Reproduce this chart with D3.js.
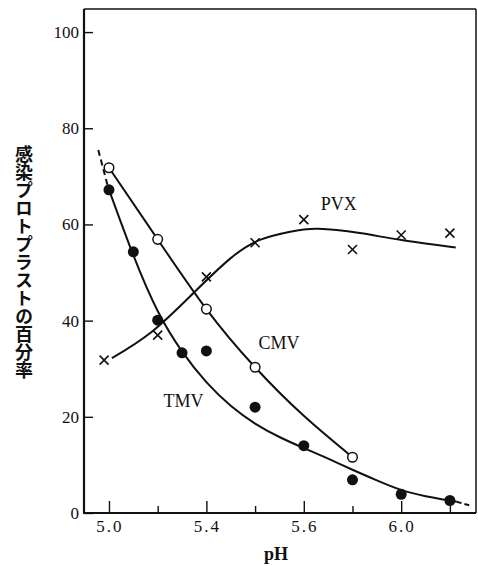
<!DOCTYPE html>
<html>
<head>
<meta charset="utf-8">
<script src="https://cdn.jsdelivr.net/npm/d3@7"></script>
<style>
  html, body { margin: 0; padding: 0; background: #fff; }
  svg { display: block; }
</style>
</head>
<body>
<svg id="chart" width="478" height="566"></svg>
<script>
// Measured points: pH and percentage of infected protoplasts
const tmvPoints = [[5.0, 67.2], [5.05, 54.3], [5.1, 40.1], [5.15, 33.3], [5.2, 33.7],
                   [5.3, 22.0], [5.4, 14.0], [5.5, 6.9], [5.6, 3.9], [5.7, 2.6]];
const cmvPoints = [[5.0, 71.8], [5.1, 56.9], [5.2, 42.4], [5.3, 30.3], [5.5, 11.6]];
const pvxPoints = [[4.99, 31.8], [5.1, 37.0], [5.2, 49.1], [5.3, 56.2], [5.4, 61.0],
                   [5.5, 54.8], [5.6, 57.8], [5.7, 58.2]];

// Hand-fitted trend curves
const tmvCurve = [[4.998, 67.8], [5.05, 53.6], [5.1, 42.0], [5.15, 33.6], [5.2, 27.2],
                  [5.25, 22.3], [5.3, 18.6], [5.35, 15.8], [5.4, 13.5], [5.45, 11.3],
                  [5.5, 9.0], [5.55, 6.8], [5.6, 4.8], [5.65, 3.5], [5.7, 2.6],
                  [5.714, 2.35]];
const tmvCurveTop = [[4.978, 75.5], [4.998, 67.8]];
const tmvCurveEnd = [[5.714, 2.35], [5.743, 1.5]];
const cmvCurve = [[5.0, 71.8], [5.1, 56.9], [5.2, 42.4], [5.3, 30.3], [5.4, 20.2], [5.5, 11.6]];
const pvxCurve = [[5.006, 32.2], [5.088, 37.7], [5.173, 45.7], [5.25, 53.0],
                  [5.31, 56.8], [5.372, 58.5], [5.43, 59.1], [5.515, 58.2],
                  [5.598, 56.8], [5.712, 55.2]];

// Axis ticks and labels
const xTicks = [5.0, 5.1, 5.2, 5.3, 5.4, 5.5, 5.6, 5.7];
const xMajorTicks = [5.0, 5.2, 5.4, 5.6];
const xTickLabels = ["5.0", "5.4", "5.6", "6.0"];
const yTicks = [0, 20, 40, 60, 80, 100];

const seriesLabels = [
  { text: "TMV", x: 5.112, y: 22.0 },
  { text: "CMV", x: 5.307, y: 34.0 },
  { text: "PVX", x: 5.435, y: 63.0 }
];
const xTitle = "pH";
const yTitle = "感染プロトプラストの百分率";

const svg = d3.select("#chart");
const plot = { left: 84, right: 476, top: 9, bottom: 513 };

const x = d3.scaleLinear().domain([4.9487, 5.7536]).range([plot.left, plot.right]);
const y = d3.scaleLinear().domain([0, 104.8]).range([plot.bottom, plot.top]);

const serif = "'Liberation Serif', 'DejaVu Serif', serif";

// frame: top and right thinner, left and bottom axes heavier
svg.append("line").attr("x1", plot.left).attr("x2", plot.right)
  .attr("y1", plot.top).attr("y2", plot.top)
  .attr("stroke", "#111").attr("stroke-width", 1.5);
svg.append("line").attr("x1", plot.right).attr("x2", plot.right)
  .attr("y1", plot.top).attr("y2", plot.bottom)
  .attr("stroke", "#111").attr("stroke-width", 1.5);

// y axis with inward ticks
const yAxis = d3.axisRight(y).tickValues(yTicks).tickSize(9).tickFormat("");
const gy = svg.append("g").attr("transform", `translate(${plot.left},0)`).call(yAxis);
gy.select(".domain").remove();
gy.selectAll(".tick line").attr("stroke", "#111").attr("stroke-width", 1.4);
svg.append("g").selectAll("text").data(yTicks).join("text")
  .attr("x", plot.left - 5).attr("y", d => y(d) + 6)
  .attr("text-anchor", "end")
  .attr("font-family", serif).attr("font-size", 17).attr("fill", "#111")
  .text(d => d);

// x axis with inward ticks, major and minor
const xAxis = d3.axisTop(x).tickValues(xTicks)
  .tickSize(7).tickFormat("");
const gx = svg.append("g").attr("transform", `translate(0,${plot.bottom})`).call(xAxis);
gx.select(".domain").remove();
gx.selectAll(".tick line")
  .attr("y2", d => xMajorTicks.some(m => Math.abs(m - d) < 1e-6) ? -12 : -7)
  .attr("stroke", "#111").attr("stroke-width", 1.4);
svg.append("g").selectAll("text").data(xMajorTicks).join("text")
  .attr("x", d => x(d) + 1).attr("y", plot.bottom + 19)
  .attr("text-anchor", "middle")
  .attr("font-family", serif).attr("font-size", 17).attr("letter-spacing", 2)
  .attr("fill", "#111")
  .text((d, i) => xTickLabels[i]);

// axis lines
svg.append("line").attr("x1", plot.left).attr("x2", plot.left)
  .attr("y1", plot.top).attr("y2", plot.bottom)
  .attr("stroke", "#111").attr("stroke-width", 2.2);
svg.append("line").attr("x1", plot.left - 1).attr("x2", plot.right)
  .attr("y1", plot.bottom).attr("y2", plot.bottom)
  .attr("stroke", "#111").attr("stroke-width", 2.2);

// titles
svg.append("text").attr("x", 276).attr("y", 560)
  .attr("text-anchor", "middle")
  .attr("font-family", serif).attr("font-size", 18).attr("font-weight", "bold")
  .attr("fill", "#111").text(xTitle);
svg.append("text").attr("x", 24).attr("y", 262)
  .attr("text-anchor", "middle")
  .style("writing-mode", "vertical-rl")
  .attr("font-family", "'Noto Sans CJK JP', sans-serif")
  .attr("font-size", 18).attr("font-weight", "bold")
  .attr("fill", "#111").text(yTitle);

// curves
const line = d3.line().x(d => x(d[0])).y(d => y(d[1])).curve(d3.curveNatural);
const curves = svg.append("g").attr("fill", "none").attr("stroke", "#111")
  .attr("stroke-width", 2).attr("stroke-linecap", "butt");
curves.append("path").attr("d", line(tmvCurve));
curves.append("path").attr("d", line(tmvCurveTop)).attr("stroke-dasharray", "6,4");
curves.append("path").attr("d", line(tmvCurveEnd)).attr("stroke-dasharray", "5,3");
curves.append("path").attr("d", line(cmvCurve));
curves.append("path").attr("d", line(pvxCurve));

// markers
svg.append("g").selectAll("circle").data(tmvPoints).join("circle")
  .attr("cx", d => x(d[0])).attr("cy", d => y(d[1])).attr("r", 5.5)
  .attr("fill", "#111");
svg.append("g").selectAll("circle").data(cmvPoints).join("circle")
  .attr("cx", d => x(d[0])).attr("cy", d => y(d[1])).attr("r", 4.8)
  .attr("fill", "#fff").attr("stroke", "#111").attr("stroke-width", 1.5);
svg.append("g").selectAll("path").data(pvxPoints).join("path")
  .attr("transform", d => `translate(${x(d[0])},${y(d[1])})`)
  .attr("d", "M-4.5,-4.5L4.5,4.5M-4.5,4.5L4.5,-4.5")
  .attr("stroke", "#111").attr("stroke-width", 1.6).attr("fill", "none");

// series labels
svg.append("g").selectAll("text").data(seriesLabels).join("text")
  .attr("x", d => x(d.x)).attr("y", d => y(d.y))
  .attr("font-family", serif).attr("font-size", 18).attr("fill", "#111")
  .text(d => d.text);
</script>
</body>
</html>
